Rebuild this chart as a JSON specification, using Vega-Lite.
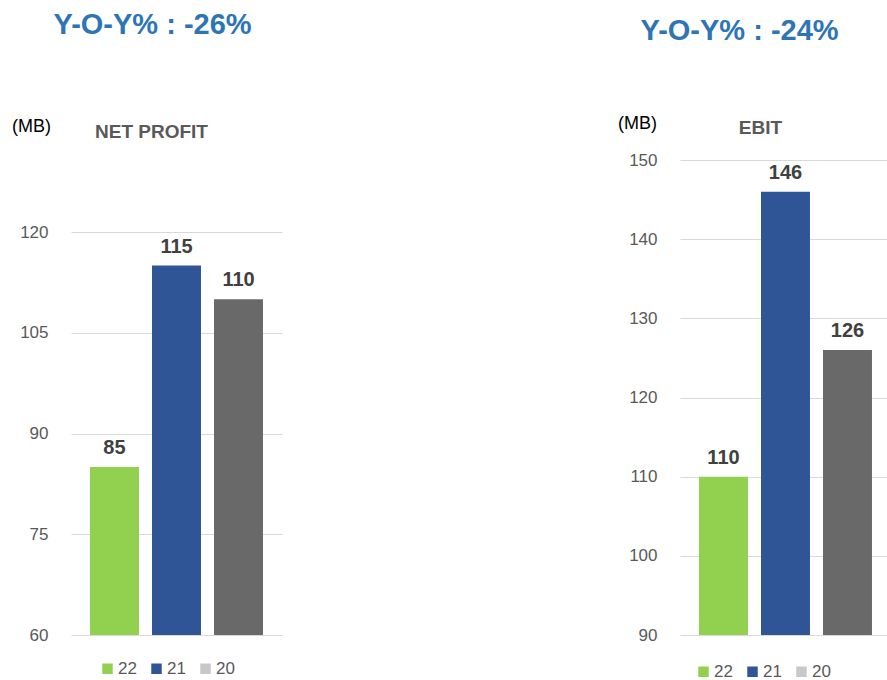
{
  "$schema": "https://vega.github.io/schema/vega-lite/v6.json",
  "padding": {"left": 11, "top": 11, "right": 0, "bottom": 0},
  "background": "white",
  "spacing": 335,
  "resolve": {"scale": {"x": "independent", "y": "independent", "color": "independent"}, "legend": {"color": "independent"}},
  "config": {
    "view": {"stroke": null},
    "font": "Liberation Sans",
    "axis": {"labelFont": "Liberation Sans", "titleFont": "Liberation Sans"},
    "legend": {"labelFont": "Liberation Sans"}
  },
  "hconcat": [
    {
      "width": 211,
      "height": 475,
      "title": {"text": "Y-O-Y% : -26%", "fontSize": 29, "fontWeight": "bold", "color": "#2e75b6", "anchor": "middle", "dx": -24, "offset": 54, "baseline": "alphabetic", "font": "Liberation Sans"},
      "data": {"values": [
        {"year": "22", "value": 85},
        {"year": "21", "value": 115},
        {"year": "20", "value": 110}
      ]},
      "encoding": {
        "x": {"field": "year", "type": "nominal", "sort": ["22", "21", "20"],
          "scale": {"paddingInner": 0.21, "paddingOuter": 0.3066},
          "axis": {"orient": "top", "labels": false, "ticks": false, "domain": false, "grid": false,
            "title": "NET PROFIT", "titleFontSize": 19, "titleFontWeight": "bold", "titleColor": "#595959",
            "titleX": 80, "titleY": -23, "titleBaseline": "alphabetic", "titleAlign": "center", "titleAnchor": null}},
        "y": {"field": "value", "type": "quantitative",
          "scale": {"domain": [60, 130.72], "nice": false, "zero": false},
          "axis": {"values": [60, 75, 90, 105, 120], "ticks": false, "domain": false, "grid": true,
            "gridColor": "#d9d9d9", "gridWidth": 1, "labelFontSize": 17, "labelColor": "#595959", "labelPadding": 23,
            "title": "(MB)", "titleAngle": 0, "titleFontSize": 18, "titleFontWeight": "normal", "titleColor": "#000000",
            "titleX": -40, "titleY": -29, "titleBaseline": "alphabetic", "titleAlign": "center"}}
      },
      "layer": [
        {
          "mark": {"type": "bar", "clip": true},
          "encoding": {
            "color": {"field": "year", "type": "nominal",
              "scale": {"domain": ["22", "21", "20"], "range": ["#92d050", "#2f5597", "#c8c8c8"]},
              "condition": {"test": "datum.year === '20'", "value": "#696969"},
              "legend": {"title": null, "orient": "none", "direction": "horizontal", "legendX": 28, "legendY": 500,
                "symbolType": "square", "symbolSize": 110, "symbolStrokeWidth": 0, "labelFontSize": 17, "labelColor": "#595959",
                "columnPadding": 11, "labelOffset": 2}}
          }
        },
        {
          "mark": {"type": "text", "baseline": "alphabetic", "dy": -13, "fontSize": 20, "fontWeight": "bold", "color": "#404040"},
          "encoding": {"text": {"field": "value", "type": "quantitative"}}
        }
      ]
    },
    {
      "width": 207,
      "height": 475,
      "title": {"text": "Y-O-Y% : -24%", "fontSize": 29, "fontWeight": "bold", "color": "#2e75b6", "anchor": "middle", "dx": -44, "offset": 45, "baseline": "alphabetic", "font": "Liberation Sans"},
      "data": {"values": [
        {"year": "22", "value": 110},
        {"year": "21", "value": 146},
        {"year": "20", "value": 126}
      ]},
      "encoding": {
        "x": {"field": "year", "type": "nominal", "sort": ["22", "21", "20"],
          "scale": {"paddingInner": 0.21, "paddingOuter": 0.2744, "align": 0.5585},
          "axis": {"orient": "top", "labels": false, "ticks": false, "domain": false, "grid": false,
            "title": "EBIT", "titleFontSize": 19, "titleFontWeight": "bold", "titleColor": "#595959",
            "titleX": 80, "titleY": -27, "titleBaseline": "alphabetic", "titleAlign": "center", "titleAnchor": null}},
        "y": {"field": "value", "type": "quantitative",
          "scale": {"domain": [90, 150], "nice": false, "zero": false},
          "axis": {"values": [90, 100, 110, 120, 130, 140, 150], "ticks": false, "domain": false, "grid": true,
            "gridColor": "#d9d9d9", "gridWidth": 1, "labelFontSize": 17, "labelColor": "#595959", "labelPadding": 23,
            "title": "(MB)", "titleAngle": 0, "titleFontSize": 18, "titleFontWeight": "normal", "titleColor": "#000000",
            "titleX": -43, "titleY": -32, "titleBaseline": "alphabetic", "titleAlign": "center"}}
      },
      "layer": [
        {
          "mark": {"type": "bar", "clip": true},
          "encoding": {
            "color": {"field": "year", "type": "nominal",
              "scale": {"domain": ["22", "21", "20"], "range": ["#92d050", "#2f5597", "#c8c8c8"]},
              "condition": {"test": "datum.year === '20'", "value": "#696969"},
              "legend": {"title": null, "orient": "none", "direction": "horizontal", "legendX": 15, "legendY": 503,
                "symbolType": "square", "symbolSize": 110, "symbolStrokeWidth": 0, "labelFontSize": 17, "labelColor": "#595959",
                "columnPadding": 11, "labelOffset": 2}}
          }
        },
        {
          "mark": {"type": "text", "baseline": "alphabetic", "dy": -13, "fontSize": 20, "fontWeight": "bold", "color": "#404040"},
          "encoding": {"text": {"field": "value", "type": "quantitative"}}
        }
      ]
    }
  ]
}
